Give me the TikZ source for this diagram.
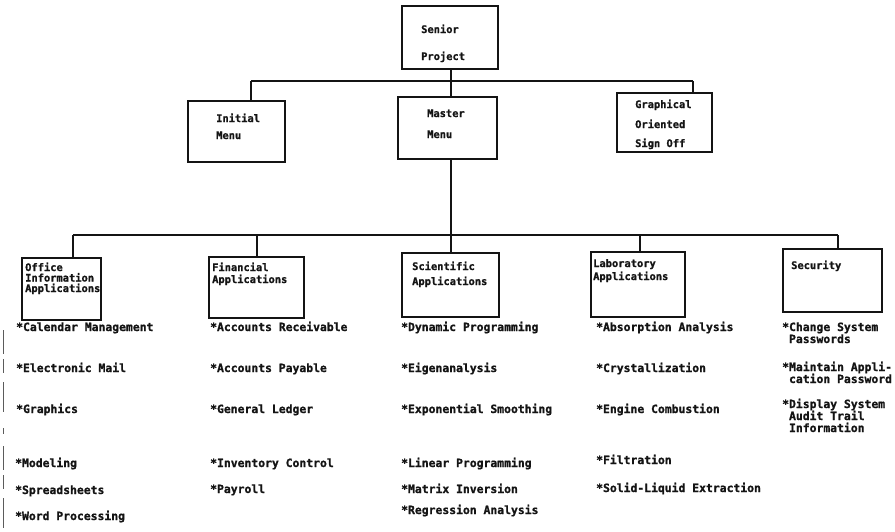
\documentclass[tikz,border=0pt]{standalone}
\usepackage{fontspec}
\newfontfamily\prt[BoldFeatures={FakeBold=1.1}]{DejaVu Sans Mono}
\newcommand{\boxfont}{\prt\bfseries\fontsize{10.4}{11}\selectfont}
\newcommand{\itemfont}{\prt\bfseries\fontsize{11.4}{12.5}\selectfont}
\definecolor{ink}{RGB}{20,20,20}
\begin{document}
\begin{tikzpicture}[x=1pt,y=-1pt,
  box/.style={draw=ink, line width=1.5pt, inner sep=0pt},
  wire/.style={draw=ink, line width=1.5pt},
  lbl/.style={anchor=base west, inner sep=0pt, font=\boxfont, text=ink},
  item/.style={anchor=base west, inner sep=0pt, font=\itemfont, text=ink}]
\useasboundingbox (0,0) rectangle (895,531);

% ---- top level ----
\node[box, minimum width=96pt, minimum height=63pt] (senior) at (450,37.5) {};
\node[lbl] (seniorA) at (421,33) {Senior};
\node[lbl] (seniorB) at (421,60) {Project};

% ---- second level ----
\node[box, minimum width=97pt, minimum height=61pt] (initial) at (236.5,131.5) {};
\node[lbl] (initialA) at (216,122) {Initial};
\node[lbl] (initialB) at (216,139) {Menu};

\node[box, minimum width=99pt, minimum height=62pt] (master) at (447.5,128) {};
\node[lbl] (masterA) at (427,117) {Master};
\node[lbl] (masterB) at (427,138) {Menu};

\node[box, minimum width=95pt, minimum height=59pt] (graph) at (664.5,122.5) {};
\node[lbl] (graphA) at (635,108) {Graphical};
\node[lbl] (graphB) at (635,128) {Oriented};
\node[lbl] (graphC) at (635,147) {Sign Off};

% ---- application groups ----
\node[box, minimum width=79pt, minimum height=62pt] (office) at (61.5,289) {};
\node[lbl] (officeA) at (25,271) {Office};
\node[lbl] (officeB) at (25,281.5) {Information};
\node[lbl] (officeC) at (25,292) {Applications};

\node[box, minimum width=95pt, minimum height=61pt] (fin) at (256.5,287.5) {};
\node[lbl] (finA) at (212,271) {Financial};
\node[lbl] (finB) at (212,283) {Applications};

\node[box, minimum width=97pt, minimum height=64pt] (sci) at (450.5,285) {};
\node[lbl] (sciA) at (412,270) {Scientific};
\node[lbl] (sciB) at (412,285) {Applications};

\node[box, minimum width=94pt, minimum height=65pt] (lab) at (638,284.5) {};
\node[lbl] (labA) at (593,267) {Laboratory};
\node[lbl] (labB) at (593,280) {Applications};

\node[box, minimum width=99pt, minimum height=63pt] (sec) at (832.5,280.5) {};
\node[lbl] (secA) at (791,269) {Security};

% ---- connectors ----
\coordinate (tl) at (251,81);
\coordinate (trunk) at (451,81);
\coordinate (tr) at (693,81);
\draw[wire] (trunk |- senior.south) -- (trunk);
\draw[wire] (tl) -- (tr);
\draw[wire] (tl) -- (tl |- initial.north);
\draw[wire] (trunk) -- (trunk |- master.north);
\draw[wire] (tr) -- (tr |- graph.north);

\coordinate (d1) at (73,235);
\coordinate (d2) at (257,235);
\coordinate (d3) at (451,235);
\coordinate (d4) at (640,235);
\coordinate (d5) at (838,235);
\draw[wire] (d3 |- master.south) -- (d3);
\draw[wire] (d1) -- (d5);
\draw[wire] (d1) -- (d1 |- office.north);
\draw[wire] (d2) -- (d2 |- fin.north);
\draw[wire] (d3) -- (d3 |- sci.north);
\draw[wire] (d4) -- (d4 |- lab.north);
\draw[wire] (d5) -- (d5 |- sec.north);

% ---- office items ----
\node[item] (o1) at (16,331) {*Calendar Management};
\node[item] (o2) at (16,372) {*Electronic Mail};
\node[item] (o3) at (16,413) {*Graphics};
\node[item] (o4) at (15,467) {*Modeling};
\node[item] (o5) at (15,494) {*Spreadsheets};
\node[item] (o6) at (15,520) {*Word Processing};

% ---- financial items ----
\node[item] (f1) at (210,331) {*Accounts Receivable};
\node[item] (f2) at (210,372) {*Accounts Payable};
\node[item] (f3) at (210,413) {*General Ledger};
\node[item] (f4) at (210,467) {*Inventory Control};
\node[item] (f5) at (210,493) {*Payroll};

% ---- scientific items ----
\node[item] (s1) at (401,331) {*Dynamic Programming};
\node[item] (s2) at (401,372) {*Eigenanalysis};
\node[item] (s3) at (401,413) {*Exponential Smoothing};
\node[item] (s4) at (401,467) {*Linear Programming};
\node[item] (s5) at (401,493) {*Matrix Inversion};
\node[item] (s6) at (401,514) {*Regression Analysis};

% ---- laboratory items ----
\node[item] (l1) at (596,331) {*Absorption Analysis};
\node[item] (l2) at (596,372) {*Crystallization};
\node[item] (l3) at (596,413) {*Engine Combustion};
\node[item] (l4) at (596,464) {*Filtration};
\node[item] (l5) at (596,492) {*Solid-Liquid Extraction};

% ---- security items ----
\node[item] (c1) at (782,331) {*Change System};
\node[item] (c1b) at (782,343) {\phantom{*}Passwords};
\node[item] (c2) at (782,371) {*Maintain Appli-};
\node[item] (c2b) at (782,383) {\phantom{*}cation Password};
\node[item] (c3) at (782,408) {*Display System};
\node[item] (c3b) at (782,420) {\phantom{*}Audit Trail};
\node[item] (c3c) at (782,432) {\phantom{*}Information};

% ---- margin rule ----
\draw[ink!70, line width=0.8pt, dash pattern=on 24pt off 5pt on 14pt off 9pt on 30pt off 16pt on 6pt off 12pt]
  (3,330) -- (3,530);
\end{tikzpicture}
\end{document}
